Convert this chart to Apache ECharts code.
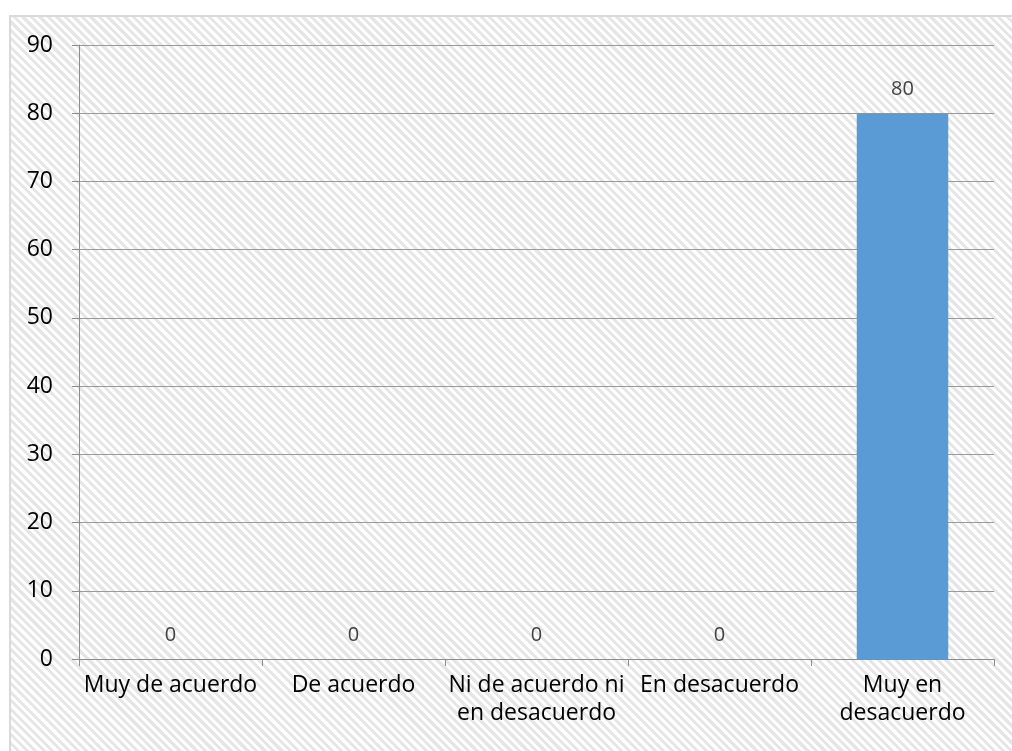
<!DOCTYPE html>
<html>
<head>
<meta charset="utf-8">
<script src="https://cdn.jsdelivr.net/npm/echarts@6/dist/echarts.min.js"></script>
<style>
html,body{margin:0;padding:0;width:1012px;height:751px;background:#fff;overflow:hidden;}
#frame{position:absolute;left:9px;top:15px;width:1010px;height:745px;border:2px solid #d9d9d9;box-sizing:border-box;
background:repeating-linear-gradient(45deg,#ffffff 0px,#ffffff 3px,#e6e6e6 3px,#e6e6e6 6px);}
#chart{position:absolute;left:0;top:0;width:1012px;height:751px;}
</style>
</head>
<body>
<div id="frame"></div>
<div id="chart"></div>
<script>
const categories = ["Muy de acuerdo", "De acuerdo", "Ni de acuerdo ni\nen desacuerdo", "En desacuerdo", "Muy en\ndesacuerdo"];
const values = [0, 0, 0, 0, 80];
const yTicks = {min: 0, max: 90, interval: 10};

const chart = echarts.init(document.getElementById('chart'), null, {renderer: 'canvas'});
const font = '"Open Sans", Lato, sans-serif';
chart.setOption({
  backgroundColor: 'transparent',
  animation: false,
  grid: {left: 79, right: 18, top: 45, bottom: 92, containLabel: false},
  xAxis: {
    type: 'category',
    data: categories,
    axisLine: {show: true, lineStyle: {color: '#8c8c8c', width: 1}},
    axisTick: {show: true, length: 7, lineStyle: {color: '#8c8c8c'}},
    axisLabel: {color: '#000', fontSize: 23, fontFamily: font, margin: 12, lineHeight: 28, interval: 0}
  },
  yAxis: {
    type: 'value',
    min: yTicks.min, max: yTicks.max, interval: yTicks.interval,
    axisLine: {show: true, lineStyle: {color: '#8c8c8c', width: 1}},
    axisTick: {show: true, length: 7, lineStyle: {color: '#8c8c8c'}},
    axisLabel: {color: '#000', fontSize: 23, fontFamily: font, margin: 26},
    splitLine: {show: true, lineStyle: {color: '#9a9a9a', width: 1}}
  },
  series: [{
    type: 'bar',
    data: values,
    barWidth: '50%',
    itemStyle: {color: '#5b9bd5'},
    label: {show: true, position: 'top', distance: 14, color: '#404040', fontSize: 20, fontFamily: font}
  }]
});
</script>
</body>
</html>
